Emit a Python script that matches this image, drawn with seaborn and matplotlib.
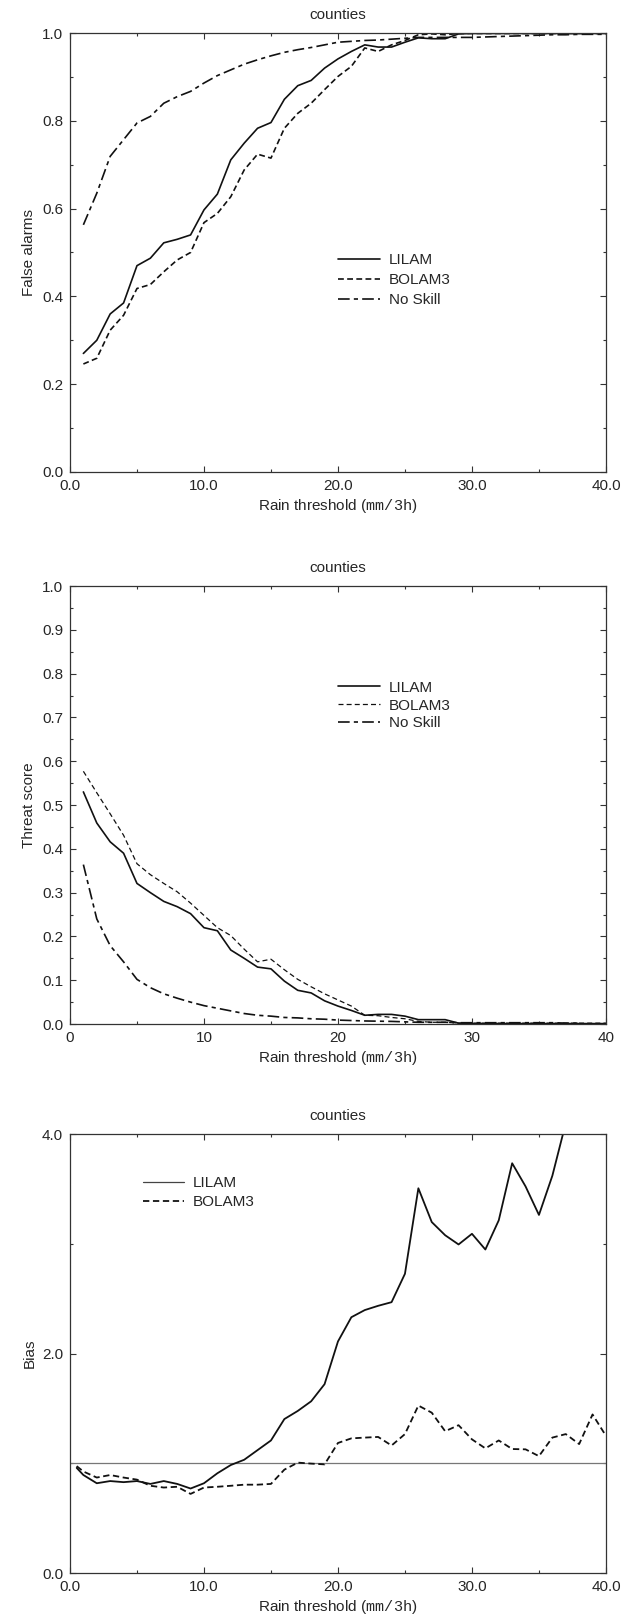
import numpy as np
import pandas as pd
import matplotlib
matplotlib.use('Agg')
import matplotlib.pyplot as plt
from matplotlib.ticker import MultipleLocator, FormatStrFormatter
import seaborn as sns

# --- data ---
thr = list(range(1, 41))

fa_lilam = [0.27, 0.30, 0.36, 0.385, 0.47, 0.487, 0.522, 0.53, 0.54, 0.597,
            0.633, 0.711, 0.749, 0.783, 0.796, 0.849, 0.88, 0.892, 0.92, 0.941,
            0.958, 0.973, 0.968, 0.968, 0.979, 0.989, 0.987, 0.987, 0.998, 0.999,
            0.999, 0.999, 0.999, 0.999, 0.999, 0.999, 0.999, 0.999, 0.999, 0.999]
fa_bolam = [0.246, 0.259, 0.323, 0.357, 0.418, 0.427, 0.456, 0.483, 0.50, 0.568,
            0.589, 0.627, 0.688, 0.724, 0.715, 0.783, 0.817, 0.84, 0.871, 0.901,
            0.924, 0.966, 0.958, 0.973, 0.983, 0.996, 0.998, 0.996, 0.999, 0.999,
            0.999, 0.999, 0.999, 0.999, 0.999, 0.999, 0.999, 0.999, 0.999, 0.999]
fa_noskill = [0.563, 0.635, 0.719, 0.757, 0.795, 0.81, 0.84, 0.855, 0.867, 0.886,
              0.903, 0.916, 0.929, 0.939, 0.948, 0.956, 0.962, 0.967, 0.973, 0.979,
              0.981, 0.983, 0.984, 0.986, 0.988, 0.99, 0.99, 0.99, 0.99, 0.99,
              0.991, 0.992, 0.993, 0.994, 0.995, 0.996, 0.996, 0.997, 0.997, 0.997]

ts_lilam = [0.53, 0.459, 0.416, 0.39, 0.321, 0.30, 0.28, 0.268, 0.252, 0.22,
            0.213, 0.169, 0.15, 0.13, 0.126, 0.098, 0.077, 0.071, 0.053, 0.041,
            0.031, 0.02, 0.022, 0.022, 0.018, 0.01, 0.01, 0.01, 0.002, 0.001,
            0.001, 0.001, 0.001, 0.001, 0.001, 0.001, 0.001, 0.001, 0.001, 0.001]
ts_bolam = [0.577, 0.528, 0.48, 0.431, 0.366, 0.341, 0.321, 0.302, 0.276, 0.248,
            0.22, 0.202, 0.171, 0.142, 0.148, 0.124, 0.102, 0.085, 0.069, 0.055,
            0.041, 0.02, 0.019, 0.015, 0.012, 0.006, 0.004, 0.004, 0.002, 0.002,
            0.002, 0.002, 0.002, 0.002, 0.002, 0.002, 0.002, 0.002, 0.002, 0.002]
ts_noskill = [0.364, 0.24, 0.179, 0.142, 0.102, 0.083, 0.069, 0.059, 0.05, 0.042,
              0.036, 0.03, 0.024, 0.02, 0.018, 0.015, 0.014, 0.012, 0.011, 0.009,
              0.008, 0.007, 0.0065, 0.006, 0.005, 0.004, 0.004, 0.004, 0.003, 0.003,
              0.003, 0.003, 0.003, 0.003, 0.003, 0.003, 0.002, 0.002]

thr_bias = [0.5] + list(range(1, 41))
bias_lilam = [0.958, 0.893, 0.818, 0.838, 0.828, 0.838, 0.812, 0.838, 0.812, 0.77,
              0.818, 0.909, 0.984, 1.032, 1.12, 1.208, 1.403, 1.477, 1.565, 1.721,
              2.11, 2.331, 2.396, 2.435, 2.468, 2.727, 3.506, 3.198, 3.078, 2.994,
              3.091, 2.948, 3.214, 3.734, 3.523, 3.263, 3.62, 4.1]
bias_bolam = [0.974, 0.925, 0.87, 0.893, 0.87, 0.851, 0.795, 0.779, 0.786, 0.721,
              0.779, 0.786, 0.795, 0.805, 0.805, 0.812, 0.942, 1.006, 0.997, 0.99,
              1.185, 1.227, 1.234, 1.24, 1.162, 1.266, 1.526, 1.461, 1.292, 1.347,
              1.218, 1.136, 1.208, 1.13, 1.127, 1.065, 1.234, 1.266, 1.175, 1.445,
              1.25]

sns.set_style('ticks')
plt.rcParams['font.family'] = ['Liberation Sans', 'DejaVu Sans']
plt.rcParams['font.size'] = 11
plt.rcParams['mathtext.fontset'] = 'custom'
plt.rcParams['mathtext.tt'] = 'Liberation Mono'

FS = 11
XLABEL = r'Rain threshold ($\mathtt{mm/3h}$)'
DASH = (3.5, 2)
DASHDOT = (7, 2.5, 2.5, 2.5)
INK = '#111111'

fig = plt.figure(figsize=(6.31, 16.18), dpi=100)
ax1 = fig.add_axes([0.1109, 0.7083, 0.8494, 0.2713])
ax2 = fig.add_axes([0.1109, 0.3671, 0.8494, 0.2707])
ax3 = fig.add_axes([0.1109, 0.0278, 0.8494, 0.2713])


def style_axes(ax):
    for s in ax.spines.values():
        s.set_linewidth(0.9)
        s.set_color('#333333')
    ax.tick_params(which='both', direction='in', top=True, right=True,
                   color='#333333', width=0.8, labelsize=FS, pad=5)
    ax.tick_params(which='major', length=4)
    ax.tick_params(which='minor', length=2.5)
    ax.set_title('counties', fontsize=FS, pad=10)
    ax.set_xlabel(XLABEL, fontsize=FS, labelpad=3)


# panel 1: false alarms
sns.lineplot(x=thr, y=fa_lilam, ax=ax1, color=INK, lw=1.2, label='LILAM')
sns.lineplot(x=thr, y=fa_bolam, ax=ax1, color=INK, lw=1.2, label='BOLAM3').lines[-1].set_dashes(DASH)
sns.lineplot(x=thr, y=fa_noskill, ax=ax1, color=INK, lw=1.2, label='No Skill').lines[-1].set_dashes(DASHDOT)
ax1.set_xlim(0, 40)
ax1.set_ylim(0, 1)
ax1.xaxis.set_major_locator(MultipleLocator(10))
ax1.xaxis.set_minor_locator(MultipleLocator(5))
ax1.yaxis.set_major_locator(MultipleLocator(0.2))
ax1.yaxis.set_minor_locator(MultipleLocator(0.1))
ax1.xaxis.set_major_formatter(FormatStrFormatter('%.1f'))
ax1.yaxis.set_major_formatter(FormatStrFormatter('%.1f'))
ax1.set_ylabel('False alarms', fontsize=FS)
style_axes(ax1)
ax1.legend(loc='upper left', bbox_to_anchor=(0.475, 0.53), frameon=False,
           handlelength=2.7, labelspacing=0.4, handletextpad=0.6, fontsize=FS)

# panel 2: threat score
sns.lineplot(x=thr, y=ts_lilam, ax=ax2, color=INK, lw=1.2, label='LILAM')
sns.lineplot(x=thr, y=ts_bolam, ax=ax2, color=INK, lw=0.9, label='BOLAM3').lines[-1].set_dashes((4, 2.5))
sns.lineplot(x=thr[:len(ts_noskill)], y=ts_noskill, ax=ax2, color=INK, lw=1.2,
             label='No Skill').lines[-1].set_dashes(DASHDOT)
ax2.set_xlim(0, 40)
ax2.set_ylim(0, 1)
ax2.xaxis.set_major_locator(MultipleLocator(10))
ax2.xaxis.set_minor_locator(MultipleLocator(5))
ax2.yaxis.set_major_locator(MultipleLocator(0.1))
ax2.yaxis.set_minor_locator(MultipleLocator(0.05))
ax2.yaxis.set_major_formatter(FormatStrFormatter('%.1f'))
ax2.set_ylabel('Threat score', fontsize=FS)
style_axes(ax2)
ax2.legend(loc='upper left', bbox_to_anchor=(0.475, 0.815), frameon=False,
           handlelength=2.7, labelspacing=0.25, handletextpad=0.6, fontsize=FS)

# panel 3: bias
ax3.axhline(1.0, color='#777777', lw=0.9)
sns.lineplot(x=thr_bias[:len(bias_lilam)], y=bias_lilam, ax=ax3, color=INK, lw=1.3)
sns.lineplot(x=thr_bias, y=bias_bolam, ax=ax3, color=INK, lw=1.3).lines[-1].set_dashes(DASH)
ax3.plot([], [], color='#444444', lw=0.9, label='LILAM')
ax3.plot([], [], color=INK, lw=1.3, dashes=DASH, label='BOLAM3')
ax3.set_xlim(0, 40)
ax3.set_ylim(0, 4)
ax3.xaxis.set_major_locator(MultipleLocator(10))
ax3.xaxis.set_minor_locator(MultipleLocator(5))
ax3.yaxis.set_major_locator(MultipleLocator(2))
ax3.yaxis.set_minor_locator(MultipleLocator(1))
ax3.xaxis.set_major_formatter(FormatStrFormatter('%.1f'))
ax3.yaxis.set_major_formatter(FormatStrFormatter('%.1f'))
ax3.set_ylabel('Bias', fontsize=FS)
style_axes(ax3)
ax3.legend(loc='upper left', bbox_to_anchor=(0.11, 0.935), frameon=False,
           handlelength=2.7, labelspacing=0.3, handletextpad=0.6, fontsize=FS)

fig.savefig('out.png', dpi=100)
